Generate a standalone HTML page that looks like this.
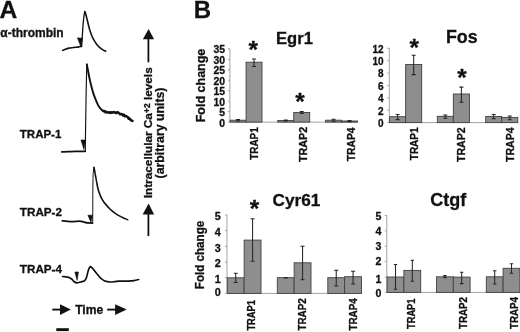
<!DOCTYPE html>
<html><head><meta charset="utf-8"><title>Figure</title>
<style>
html,body{margin:0;padding:0;background:#fff;}
body{width:520px;height:332px;overflow:hidden;}
svg{display:block;}
text{font-family:"Liberation Sans",sans-serif;font-weight:bold;fill:#111;stroke:#111;stroke-width:0.3px;}
.tr{fill:none;stroke:#111;stroke-linejoin:round;stroke-linecap:round;}
</style></head>
<body>
<svg width="520" height="332" viewBox="0 0 520 332">
<rect width="520" height="332" fill="#fff"/>
<!-- panel letters -->
<text x="-0.4" y="17.8" font-size="24.6">A</text>
<text x="193.7" y="17.7" font-size="24">B</text>
<!-- trace labels -->
<text x="0.3" y="36.7" font-size="12">α-thrombin</text>
<text x="19.8" y="137.6" font-size="11.5">TRAP-1</text>
<text x="19.8" y="215.9" font-size="11.7">TRAP-2</text>
<text x="19.8" y="273" font-size="11.7">TRAP-4</text>
<!-- traces -->
<path class="tr" stroke-width="1.6" d="M62.7 50.4C63.2 50.2 64.5 49.6 65.5 49.2C66.5 48.8 67.7 48.4 69.0 48.1C70.3 47.8 72.0 47.7 73.5 47.5C75.0 47.3 77.0 47.3 78.3 47.1C79.6 46.9 81.0 46.4 81.6 46.3"/>
<path class="tr" stroke-width="1.3" d="M81.6 46.3C81.7 44.6 82.1 39.3 82.3 36.3C82.5 33.2 82.6 30.9 82.8 28.0C83.0 25.1 83.3 21.7 83.6 19.0C83.9 16.3 84.5 12.8 84.7 11.6"/>
<path class="tr" stroke-width="1.6" d="M84.7 11.6C84.8 11.9 85.2 12.4 85.6 13.6C86.0 14.8 86.5 17.1 87.0 19.0C87.5 20.9 88.0 23.2 88.5 25.2C89.0 27.2 89.4 29.0 90.0 30.8C90.6 32.6 91.3 34.6 92.0 36.2C92.7 37.8 93.2 38.9 94.0 40.2C94.8 41.5 95.7 43.0 96.6 44.2C97.5 45.4 98.5 46.4 99.5 47.3C100.5 48.2 101.5 49.0 102.5 49.6C103.5 50.2 105.2 50.9 105.7 51.2"/>
<path d="M77.4 37.8L82.5 38.2L81 47.2Z" fill="#111" stroke="#111" stroke-width="0.5" stroke-linejoin="round"/>
<path class="tr" stroke-width="1.7" d="M61.8 151.9C62.8 151.9 65.8 151.8 68.0 151.7C70.2 151.6 73.0 151.5 75.0 151.4C77.0 151.3 78.3 151.3 80.0 151.3C81.7 151.3 84.4 151.3 85.3 151.3"/>
<path class="tr" stroke-width="1.15" d="M85.3 151.3C85.4 146.1 85.5 130.2 85.7 120.0C85.9 109.8 86.0 99.3 86.2 90.0C86.4 80.7 86.7 68.6 86.8 64.3"/>
<path class="tr" stroke-width="1.9" d="M86.8 64.3C87.0 65.1 87.4 67.3 87.7 69.0C88.0 70.7 88.4 72.6 88.8 74.7C89.2 76.8 89.7 79.4 90.2 81.5C90.7 83.6 91.2 85.6 91.7 87.4C92.2 89.2 92.6 91.0 93.1 92.6C93.6 94.2 94.1 95.7 94.7 97.2C95.3 98.8 95.9 100.4 96.6 101.9C97.2 103.4 97.9 104.8 98.6 106.0C99.3 107.2 100.1 108.2 100.9 109.1C101.7 110.0 103.1 110.9 103.5 111.3"/>
<path class="tr" stroke-width="2.5" d="M103.5 111.0L104.5 111.1L105.4 112.3L106.4 111.8L107.4 112.6L108.4 112.5L109.4 112.2L110.4 112.9L111.3 112.2L112.3 112.7L113.3 112.2L114.3 112.1L115.2 112.6L116.2 113.1L117.2 112.0L118.2 112.5L119.2 113.4L120.2 114.2L121.2 114.0L122.1 114.2L123.1 115.5L123.9 114.6L124.8 116.3L125.6 115.9L126.4 116.2L127.2 116.7L128.0 117.5L128.8 118.8L129.5 118.4L130.3 119.5L131.4 120.5L132.5 120.9"/>
<path d="M80.9 139.9L85.6 139.9L83.9 149.6Z" fill="#111" stroke="#111" stroke-width="0.5" stroke-linejoin="round"/>
<path class="tr" stroke-width="1.75" d="M62.3 220.8C63.2 220.9 65.7 221.3 67.5 221.4C69.3 221.5 71.3 221.6 72.9 221.6C74.5 221.6 75.6 221.4 77.0 221.3C78.4 221.2 80.0 221.2 81.3 221.3C82.5 221.5 83.5 221.9 84.5 222.2C85.5 222.5 86.3 222.8 87.6 222.9C88.9 223.0 91.7 223.0 92.5 223.0"/>
<path class="tr" stroke-width="1" stroke="#444" d="M92.7 223.0C92.7 219.2 92.8 207.2 92.8 200.0C92.8 192.8 92.9 184.7 93.0 180.0C93.1 175.3 93.1 174.1 93.3 172.0C93.5 169.9 93.9 168.2 94.0 167.4"/>
<path class="tr" stroke-width="1.6" d="M94.0 167.4C94.2 168.3 94.7 171.1 95.0 173.0C95.3 174.9 95.8 177.1 96.1 179.0C96.4 180.9 96.8 182.8 97.1 184.5C97.4 186.2 97.8 187.9 98.2 189.5C98.6 191.1 99.2 192.6 99.7 194.0C100.2 195.4 100.7 196.7 101.4 198.0C102.1 199.3 102.9 200.8 103.8 202.0C104.7 203.2 105.6 204.3 106.6 205.4C107.6 206.5 108.6 207.6 109.7 208.7C110.8 209.8 112.0 210.8 113.0 211.7C114.0 212.6 115.0 213.2 116.0 213.9C117.0 214.6 118.0 215.2 119.3 215.9C120.5 216.6 122.1 217.4 123.5 218.0C124.9 218.6 127.0 219.4 127.7 219.7"/>
<path d="M87.9 215.2L92.5 215.2L91 222.4Z" fill="#111" stroke="#111" stroke-width="0.6" stroke-linejoin="round"/>
<path class="tr" stroke-width="1.7" d="M62.6 276.5C63.1 276.6 64.5 276.7 65.5 276.8C66.5 276.9 67.4 276.9 68.4 277.3C69.4 277.7 70.7 278.2 71.7 279.0C72.7 279.8 73.4 281.2 74.2 281.8C75.0 282.4 75.6 282.8 76.7 282.8C77.8 282.8 79.5 282.2 80.8 281.9C82.1 281.5 83.6 281.4 84.6 280.7C85.5 280.0 85.9 279.2 86.5 277.5C87.1 275.8 87.7 272.3 88.2 270.7C88.7 269.1 88.9 268.5 89.3 267.8C89.7 267.1 90.0 266.7 90.4 266.6C90.8 266.5 91.1 266.9 91.6 267.3C92.1 267.7 92.4 268.0 93.2 269.0C94.0 270.0 95.2 271.7 96.5 273.2C97.8 274.7 99.3 276.9 100.7 278.2C102.1 279.5 103.2 280.4 104.8 281.0C106.4 281.6 109.0 281.9 110.6 282.0C112.2 282.1 113.1 281.8 114.5 281.6C115.9 281.5 117.4 281.2 118.8 281.1C120.2 281.0 121.6 281.2 123.0 281.2C124.4 281.2 125.8 281.2 127.1 281.1C128.3 281.1 129.4 281.0 130.5 280.9C131.6 280.8 132.3 280.8 133.7 280.6C135.1 280.4 137.9 279.7 138.7 279.5"/>
<path d="M74.9 272L78.5 272L77.1 280.4Z" fill="#111" stroke="#111" stroke-width="0.6" stroke-linejoin="round"/>
<!-- time row -->
<path d="M52.3 309.6H61" stroke="#111" stroke-width="1.9" fill="none"/>
<path d="M60 304.3L70.8 309.6L60 314.9Z" fill="#111"/>
<text x="75.2" y="314" font-size="12.1">Time</text>
<path d="M107.2 309.6H116" stroke="#111" stroke-width="1.9" fill="none"/>
<path d="M115.1 304.3L126.7 309.6L115.1 314.9Z" fill="#111"/>
<rect x="56.3" y="328.2" width="12.5" height="2.9" fill="#111"/>
<!-- vertical axis label -->
<path d="M148.4 62.3V38" stroke="#111" stroke-width="1.8" fill="none"/>
<path d="M142.9 39.2L148.6 29L154.1 39.2Z" fill="#111"/>
<path d="M148.4 236.1V213" stroke="#111" stroke-width="1.8" fill="none"/>
<path d="M142.6 214.4L148.6 203.5L154.1 214.4Z" fill="#111"/>
<text transform="translate(152.3,132.8) rotate(-90)" font-size="11.8" text-anchor="middle">Intracellular Ca<tspan font-size="8.5" dy="-2.4">+2</tspan><tspan dy="2.4"> levels</tspan></text>
<text transform="translate(164.3,133) rotate(-90)" font-size="12.3" text-anchor="middle">(arbitrary units)</text>
<!-- chart titles -->
<text transform="translate(276,43.9) scale(0.965,1)" font-size="17.2">Egr1</text>
<text x="446" y="43.2" font-size="17.8">Fos</text>
<text x="272.5" y="206.2" font-size="17.2">Cyr61</text>
<text x="430.3" y="206.2" font-size="18">Ctgf</text>
<!-- y labels -->
<text transform="translate(205.3,85.5) rotate(-90)" font-size="12.5" text-anchor="middle">Fold change</text>
<text transform="translate(204.4,255) rotate(-90) scale(0.93,1)" font-size="12.5" text-anchor="middle">Fold change</text>
<!-- asterisks -->
<text x="253.3" y="57.55" font-size="24.3" text-anchor="middle">*</text>
<text x="300.1" y="109.75" font-size="24.3" text-anchor="middle">*</text>
<text x="414.2" y="55.75" font-size="24.3" text-anchor="middle">*</text>
<text x="462.1" y="86.35" font-size="24.3" text-anchor="middle">*</text>
<text x="254.6" y="217.35" font-size="24.3" text-anchor="middle">*</text>
<!-- Egr1 -->
<path d="M229.9 48.40V122.1" stroke="#a4a4a4" stroke-width="1" fill="none"/>
<path d="M227.9 122.1H358" stroke="#a4a4a4" stroke-width="1" fill="none"/>
<text x="225" y="126.62" font-size="10.4" text-anchor="end">0</text>
<text x="225" y="116.17" font-size="10.4" text-anchor="end">5</text>
<text x="225" y="105.71" font-size="10.4" text-anchor="end">10</text>
<text x="225" y="95.25" font-size="10.4" text-anchor="end">15</text>
<text x="225" y="84.79" font-size="10.4" text-anchor="end">20</text>
<text x="225" y="74.34" font-size="10.4" text-anchor="end">25</text>
<text x="225" y="63.88" font-size="10.4" text-anchor="end">30</text>
<text x="225" y="53.42" font-size="10.4" text-anchor="end">35</text>
<path d="M227.9 111.64h2M227.9 101.19h2M227.9 90.73h2M227.9 80.27h2M227.9 69.81h2M227.9 59.36h2M227.9 48.90h2" stroke="#a4a4a4" stroke-width="1" fill="none"/>
<rect x="230.10" y="120.20" width="15.95" height="1.90" fill="#8e8e8e" stroke="#404040" stroke-width="0.9"/>
<path d="M238.07 119.40V121.00M236.07 119.40h4.0M236.07 121.00h4.0" stroke="#262626" stroke-width="1.05" fill="none"/>
<rect x="246.05" y="62.20" width="15.95" height="59.90" fill="#8e8e8e" stroke="#404040" stroke-width="0.9"/>
<path d="M254.02 58.90V66.50M252.02 58.90h4.0M252.02 66.50h4.0" stroke="#262626" stroke-width="1.05" fill="none"/>
<rect x="277.80" y="120.50" width="15.95" height="1.60" fill="#8e8e8e" stroke="#404040" stroke-width="0.9"/>
<path d="M285.78 120.00V121.00M283.78 120.00h4.0M283.78 121.00h4.0" stroke="#262626" stroke-width="1.05" fill="none"/>
<rect x="293.75" y="112.50" width="15.95" height="9.60" fill="#8e8e8e" stroke="#404040" stroke-width="0.9"/>
<path d="M301.73 111.50V113.50M299.73 111.50h4.0M299.73 113.50h4.0" stroke="#262626" stroke-width="1.05" fill="none"/>
<rect x="325.60" y="120.20" width="15.95" height="1.90" fill="#8e8e8e" stroke="#404040" stroke-width="0.9"/>
<path d="M333.58 119.30V121.20M331.58 119.30h4.0M331.58 121.20h4.0" stroke="#262626" stroke-width="1.05" fill="none"/>
<rect x="341.55" y="121.00" width="15.95" height="1.10" fill="#8e8e8e" stroke="#404040" stroke-width="0.9"/>
<path d="M349.53 120.40V121.60M347.53 120.40h4.0M347.53 121.60h4.0" stroke="#262626" stroke-width="1.05" fill="none"/>
<text transform="translate(258.2,159.8) rotate(-90)" font-size="10.4" textLength="32.5" lengthAdjust="spacingAndGlyphs">TRAP1</text>
<text transform="translate(306.5,162) rotate(-90)" font-size="10.4" textLength="35.2" lengthAdjust="spacingAndGlyphs">TRAP2</text>
<text transform="translate(355,161.2) rotate(-90)" font-size="10.4" textLength="33.7" lengthAdjust="spacingAndGlyphs">TRAP4</text>
<!-- Fos -->
<path d="M389.3 47.80V122.6" stroke="#a4a4a4" stroke-width="1" fill="none"/>
<path d="M387.3 122.6H518" stroke="#a4a4a4" stroke-width="1" fill="none"/>
<text x="383.6" y="126.98" font-size="10" text-anchor="end">0</text>
<text x="383.6" y="114.60" font-size="10" text-anchor="end">2</text>
<text x="383.6" y="102.21" font-size="10" text-anchor="end">4</text>
<text x="383.6" y="89.83" font-size="10" text-anchor="end">6</text>
<text x="383.6" y="77.45" font-size="10" text-anchor="end">8</text>
<text x="383.6" y="65.06" font-size="10" text-anchor="end">10</text>
<text x="383.6" y="52.68" font-size="10" text-anchor="end">12</text>
<path d="M387.3 110.22h2M387.3 97.83h2M387.3 85.45h2M387.3 73.07h2M387.3 60.68h2M387.3 48.30h2" stroke="#a4a4a4" stroke-width="1" fill="none"/>
<rect x="389.60" y="116.70" width="16.05" height="5.90" fill="#8e8e8e" stroke="#404040" stroke-width="0.9"/>
<path d="M397.62 114.40V119.60M395.62 114.40h4.0M395.62 119.60h4.0" stroke="#262626" stroke-width="1.05" fill="none"/>
<rect x="405.65" y="64.50" width="16.05" height="58.10" fill="#8e8e8e" stroke="#404040" stroke-width="0.9"/>
<path d="M413.68 55.30V74.60M411.68 55.30h4.0M411.68 74.60h4.0" stroke="#262626" stroke-width="1.05" fill="none"/>
<rect x="437.30" y="116.30" width="16.05" height="6.30" fill="#8e8e8e" stroke="#404040" stroke-width="0.9"/>
<path d="M445.32 114.90V118.20M443.32 114.90h4.0M443.32 118.20h4.0" stroke="#262626" stroke-width="1.05" fill="none"/>
<rect x="453.35" y="94.00" width="16.05" height="28.60" fill="#8e8e8e" stroke="#404040" stroke-width="0.9"/>
<path d="M461.38 87.10V102.20M459.38 87.10h4.0M459.38 102.20h4.0" stroke="#262626" stroke-width="1.05" fill="none"/>
<rect x="485.70" y="116.50" width="16.05" height="6.10" fill="#8e8e8e" stroke="#404040" stroke-width="0.9"/>
<path d="M493.72 114.50V118.80M491.72 114.50h4.0M491.72 118.80h4.0" stroke="#262626" stroke-width="1.05" fill="none"/>
<rect x="501.75" y="117.40" width="16.05" height="5.20" fill="#8e8e8e" stroke="#404040" stroke-width="0.9"/>
<path d="M509.77 115.90V119.80M507.77 115.90h4.0M507.77 119.80h4.0" stroke="#262626" stroke-width="1.05" fill="none"/>
<text transform="translate(417.8,160.2) rotate(-90)" font-size="10.1" textLength="32.7" lengthAdjust="spacingAndGlyphs">TRAP1</text>
<text transform="translate(465.1,162) rotate(-90)" font-size="10.1" textLength="34.7" lengthAdjust="spacingAndGlyphs">TRAP2</text>
<text transform="translate(513.5,162) rotate(-90)" font-size="10.1" textLength="34.7" lengthAdjust="spacingAndGlyphs">TRAP4</text>
<!-- Cyr61 -->
<path d="M227 214.50V293.4" stroke="#a4a4a4" stroke-width="1" fill="none"/>
<path d="M225 293.4H362" stroke="#a4a4a4" stroke-width="1" fill="none"/>
<text x="220.8" y="296.47" font-size="10.8" text-anchor="end">0</text>
<text x="220.8" y="283.09" font-size="10.8" text-anchor="end">1</text>
<text x="220.8" y="267.41" font-size="10.8" text-anchor="end">2</text>
<text x="220.8" y="251.73" font-size="10.8" text-anchor="end">3</text>
<text x="220.8" y="236.05" font-size="10.8" text-anchor="end">4</text>
<text x="220.8" y="220.37" font-size="10.8" text-anchor="end">5</text>
<path d="M225 277.72h2M225 262.04h2M225 246.36h2M225 230.68h2M225 215.00h2" stroke="#a4a4a4" stroke-width="1" fill="none"/>
<rect x="227.30" y="277.80" width="16.85" height="15.60" fill="#8e8e8e" stroke="#404040" stroke-width="0.9"/>
<path d="M235.73 273.20V282.40M233.73 273.20h4.0M233.73 282.40h4.0" stroke="#262626" stroke-width="1.05" fill="none"/>
<rect x="244.15" y="240.10" width="16.85" height="53.30" fill="#8e8e8e" stroke="#404040" stroke-width="0.9"/>
<path d="M252.58 218.70V261.30M250.58 218.70h4.0M250.58 261.30h4.0" stroke="#262626" stroke-width="1.05" fill="none"/>
<rect x="277.30" y="277.70" width="16.85" height="15.70" fill="#8e8e8e" stroke="#404040" stroke-width="0.9"/>
<path d="M285.73 277.40V278.00M283.73 277.40h4.0M283.73 278.00h4.0" stroke="#262626" stroke-width="1.05" fill="none"/>
<rect x="294.15" y="262.80" width="16.85" height="30.60" fill="#8e8e8e" stroke="#404040" stroke-width="0.9"/>
<path d="M302.58 246.20V279.70M300.58 246.20h4.0M300.58 279.70h4.0" stroke="#262626" stroke-width="1.05" fill="none"/>
<rect x="327.80" y="277.70" width="16.85" height="15.70" fill="#8e8e8e" stroke="#404040" stroke-width="0.9"/>
<path d="M336.23 270.30V285.90M334.23 270.30h4.0M334.23 285.90h4.0" stroke="#262626" stroke-width="1.05" fill="none"/>
<rect x="344.65" y="276.70" width="16.85" height="16.70" fill="#8e8e8e" stroke="#404040" stroke-width="0.9"/>
<path d="M353.08 271.20V284.00M351.08 271.20h4.0M351.08 284.00h4.0" stroke="#262626" stroke-width="1.05" fill="none"/>
<text transform="translate(255.2,330.6) rotate(-90)" font-size="10.4" textLength="30.6" lengthAdjust="spacingAndGlyphs">TRAP1</text>
<text transform="translate(305.8,330.6) rotate(-90)" font-size="10.4" textLength="32.4" lengthAdjust="spacingAndGlyphs">TRAP2</text>
<text transform="translate(357.3,330.6) rotate(-90)" font-size="10.4" textLength="32.4" lengthAdjust="spacingAndGlyphs">TRAP4</text>
<!-- Ctgf -->
<path d="M386.8 215.00V292.4" stroke="#a4a4a4" stroke-width="1" fill="none"/>
<path d="M384.8 292.4H520" stroke="#a4a4a4" stroke-width="1" fill="none"/>
<text x="381.5" y="297.49" font-size="10.6" text-anchor="end">0</text>
<text x="381.5" y="282.71" font-size="10.6" text-anchor="end">1</text>
<text x="381.5" y="265.13" font-size="10.6" text-anchor="end">2</text>
<text x="381.5" y="250.35" font-size="10.6" text-anchor="end">3</text>
<text x="381.5" y="234.97" font-size="10.6" text-anchor="end">4</text>
<text x="381.5" y="220.19" font-size="10.6" text-anchor="end">5</text>
<path d="M384.8 277.02h2M384.8 261.64h2M384.8 246.26h2M384.8 230.88h2M384.8 215.50h2" stroke="#a4a4a4" stroke-width="1" fill="none"/>
<rect x="387.10" y="277.00" width="16.80" height="15.40" fill="#8e8e8e" stroke="#404040" stroke-width="0.9"/>
<path d="M395.50 264.50V289.20M393.80 264.50h3.4M393.80 289.20h3.4" stroke="#262626" stroke-width="1.05" fill="none"/>
<rect x="403.90" y="270.40" width="16.80" height="22.00" fill="#8e8e8e" stroke="#404040" stroke-width="0.9"/>
<path d="M412.30 260.30V281.20M410.60 260.30h3.4M410.60 281.20h3.4" stroke="#262626" stroke-width="1.05" fill="none"/>
<rect x="436.50" y="276.80" width="16.80" height="15.60" fill="#8e8e8e" stroke="#404040" stroke-width="0.9"/>
<path d="M444.90 275.60V277.70M443.20 275.60h3.4M443.20 277.70h3.4" stroke="#262626" stroke-width="1.05" fill="none"/>
<rect x="453.30" y="277.10" width="16.80" height="15.30" fill="#8e8e8e" stroke="#404040" stroke-width="0.9"/>
<path d="M461.70 272.20V283.60M460.00 272.20h3.4M460.00 283.60h3.4" stroke="#262626" stroke-width="1.05" fill="none"/>
<rect x="486.30" y="276.80" width="16.80" height="15.60" fill="#8e8e8e" stroke="#404040" stroke-width="0.9"/>
<path d="M494.70 270.70V284.00M493.00 270.70h3.4M493.00 284.00h3.4" stroke="#262626" stroke-width="1.05" fill="none"/>
<rect x="503.10" y="268.30" width="16.80" height="24.10" fill="#8e8e8e" stroke="#404040" stroke-width="0.9"/>
<path d="M511.50 263.80V273.20M509.80 263.80h3.4M509.80 273.20h3.4" stroke="#262626" stroke-width="1.05" fill="none"/>
<text transform="translate(415,329) rotate(-90)" font-size="10.1" textLength="30.5" lengthAdjust="spacingAndGlyphs">TRAP1</text>
<text transform="translate(466.5,329) rotate(-90)" font-size="10.1" textLength="32.0" lengthAdjust="spacingAndGlyphs">TRAP2</text>
<text transform="translate(517.6,329) rotate(-90)" font-size="10.1" textLength="32.0" lengthAdjust="spacingAndGlyphs">TRAP4</text>
</svg>
</body></html>
